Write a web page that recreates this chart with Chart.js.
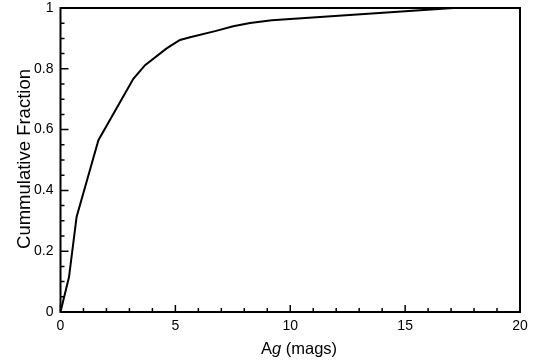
<!DOCTYPE html>
<html>
<head>
<meta charset="utf-8">
<script src="https://cdn.jsdelivr.net/npm/chart.js@4/dist/chart.umd.min.js"></script>
<style>
  html, body { margin: 0; padding: 0; background: #fff; }
  #wrap { width: 545px; height: 363px; }
</style>
</head>
<body>
<div id="wrap"><canvas id="c" width="545" height="363"></canvas></div>
<script>
// Extinction Ag (mags) and the cumulative fraction of sources below it
const agMags   = [0, 0.37, 0.70, 1.65, 3.17, 3.68, 4.62, 5.20, 5.64, 6.73, 7.52, 8.25, 9.20, 17.1, 20];
const fraction = [0, 0.115, 0.3125, 0.565, 0.767, 0.812, 0.867, 0.895, 0.904, 0.924, 0.940, 0.951, 0.960, 1.0, 1.0];

const xTickLabels = ['0', '5', '10', '15', '20'];
const yTickLabels = ['0', '0.2', '0.4', '0.6', '0.8', '1'];

const FONT = '"Liberation Sans", Arial, Helvetica, sans-serif';

// Frame, inward tick marks and axis titles
const framePlugin = {
  id: 'frame',
  afterDraw(chart) {
    const { ctx, chartArea: a, scales: { x, y } } = chart;
    ctx.save();
    ctx.strokeStyle = '#000';
    ctx.lineWidth = 2;
    ctx.strokeRect(a.left, a.top, a.right - a.left, a.bottom - a.top);

    ctx.lineWidth = 1.5;
    ctx.beginPath();
    for (let v = 0; v <= 20; v += 1) {
      const px = x.getPixelForValue(v);
      const len = v % 5 === 0 ? 7 : 4;
      ctx.moveTo(px, a.bottom);
      ctx.lineTo(px, a.bottom - len);
    }
    for (let i = 0; i <= 20; i++) {
      const py = y.getPixelForValue(i * 0.05);
      const len = i % 4 === 0 ? 8 : 4;
      ctx.moveTo(a.left, py);
      ctx.lineTo(a.left + len, py);
    }
    ctx.stroke();

    // x-axis title: "Ag (mags)" with an italic g
    ctx.fillStyle = '#000';
    ctx.textBaseline = 'alphabetic';
    ctx.textAlign = 'left';
    const upright = '16.5px ' + FONT;
    const italic = 'italic 16.5px ' + FONT;
    const parts = [['A', upright], ['g', italic], [' (mags)', upright]];
    let total = 0;
    parts.forEach(([t, f]) => { ctx.font = f; total += ctx.measureText(t).width; });
    let tx = 299 - total / 2;
    const ty = 353.5;
    parts.forEach(([t, f]) => { ctx.font = f; ctx.fillText(t, tx, ty); tx += ctx.measureText(t).width; });

    // y-axis title
    ctx.font = '18.5px ' + FONT;
    ctx.textAlign = 'center';
    ctx.translate(29.5, 159);
    ctx.rotate(-Math.PI / 2);
    ctx.fillText('Cummulative Fraction', 0, 0);
    ctx.restore();
  }
};

new Chart(document.getElementById('c'), {
  type: 'scatter',
  data: {
    datasets: [{
      data: agMags.map((v, i) => ({ x: v, y: fraction[i] })),
      showLine: true,
      borderColor: '#000',
      borderWidth: 2,
      pointRadius: 0,
      tension: 0,
      fill: false
    }]
  },
  options: {
    responsive: false,
    animation: false,
    devicePixelRatio: 1,
    layout: { padding: { top: 8, right: 25, left: 0, bottom: 0 } },
    plugins: { legend: { display: false }, tooltip: { enabled: false } },
    scales: {
      x: {
        type: 'linear',
        min: 0, max: 20,
        grid: { display: false, drawTicks: false },
        border: { display: false },
        ticks: {
          stepSize: 5,
          padding: 6,
          maxRotation: 0,
          color: '#000',
          font: { family: FONT, size: 14 },
          callback: (v) => xTickLabels[Math.round(v / 5)]
        },
        afterFit(s) { s.height = 51; s.paddingLeft = 0; s.paddingRight = 0; }
      },
      y: {
        type: 'linear',
        min: 0, max: 1,
        grid: { display: false, drawTicks: false },
        border: { display: false },
        ticks: {
          stepSize: 0.2,
          padding: 7,
          color: '#000',
          font: { family: FONT, size: 14 },
          callback: (v) => yTickLabels[Math.round(v / 0.2)]
        },
        afterFit(s) { s.width = 60.5; s.paddingTop = 0; s.paddingBottom = 0; }
      }
    }
  },
  plugins: [framePlugin]
});
</script>
</body>
</html>
